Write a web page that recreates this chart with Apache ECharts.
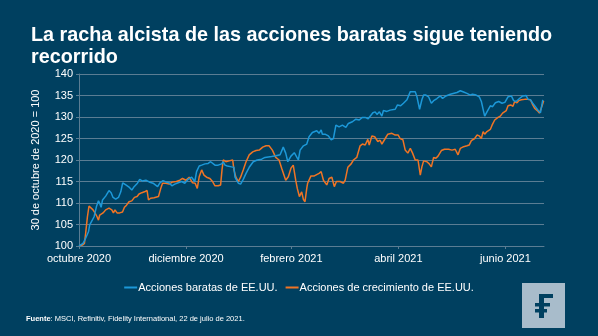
<!DOCTYPE html>
<html>
<head>
<meta charset="utf-8">
<script src="https://cdn.jsdelivr.net/npm/echarts@6/dist/echarts.min.js"></script>
<style>
html,body{margin:0;padding:0;background:#004060;}
#c{width:598px;height:336px;}
</style>
</head>
<body>
<div id="c"></div>
<script>
// Days since 30 Oct 2020 and index levels (30 Oct 2020 = 100)
const valueDays = [0,2.3,3.8,5.4,6.1,7.2,8.6,9.9,11.1,11.8,12.6,13.4,15.2,17.1,18.3,19.4,20.9,22.5,23.8,24.9,26.7,28.5,30.1,31.4,33.3,34.6,36.2,38.1,40,42.2,44.8,46.1,47.9,49.5,51.4,52.9,54.6,56.5,58.5,60.3,62.2,64.2,66,67,68.5,69.9,71.8,73.6,75,76.1,77.5,79.3,81.3,82.2,83.2,84.5,87,88.3,88.9,89.8,90.8,92.1,93.6,95.2,97,99.3,101.6,104.1,106,109.8,112.3,114.6,116.4,117.8,119,120.8,122.7,125,126,127.9,129.8,131.1,133,135.5,136.8,138,138.7,140.2,142.1,143.7,145,146.4,148.2,150.1,152.1,153.5,155.8,157.8,159.7,161.5,163.1,164.8,167.5,168.8,169.8,171.2,172.6,173.5,175.5,177.3,180.2,181.5,183.3,184.9,186.9,188.8,191.6,192.6,194.1,195.4,196.4,197.7,199.2,200.8,202.1,204,205.9,207.2,209.1,211.6,215.4,217.3,219.2,221.1,223,224.3,226.3,228.1,229.3,230.4,231.2,232.5,234.4,235.7,237.3,239.2,241.1,242.7,244.5,246.4,247.7,249.1,251,252.9,254.8,255.9,257.3,258.6,260.1,261.7,263,264.3];
const valueLevels = [100,100.6,101.8,103.3,104.9,105.1,106.8,109.1,110.5,109.9,109,110.7,111.6,112.9,112.4,111.3,110.9,111.3,112.6,114.7,114.2,113.7,113,113.8,114.6,115.5,115.1,115.3,114.9,114.6,113.8,114.7,115.2,114.9,114.7,114,114.4,114.7,115,114.6,115.5,116,115,117.3,118.6,118.8,119.1,119.2,119.6,119.8,118.8,118.8,119.1,119.6,118.8,118.6,118.4,118.3,116,115.3,114.6,114.4,115.5,116.9,118.3,119.6,120,120.2,120.6,120.8,121,121.2,123,121.6,119.6,120.9,121.7,120,122.3,123.3,123.7,125.4,126.4,126.8,126.2,127,126,126,125.6,124.7,125,128.1,127.7,128.1,127.6,128.5,128.9,129.5,129.3,129.9,129.9,129.6,131,131.2,130.6,131.2,130.2,131.5,131.3,131.6,131.8,132.8,132.6,133.2,134,135.9,135.9,134.7,131.8,134,135.1,135.1,134.7,133.2,133.8,134.3,134.9,134.3,134.9,135.3,135.7,136.1,135.8,135.5,135.1,135.3,135.1,134.7,133.6,131.6,130.2,131.2,132.6,132.4,133.3,133.6,133.2,133.4,134.7,134.9,133.8,133.6,134.3,134.9,135,134.1,134,133.2,132.4,131.5,131,134];

const growthDays = [0,1.9,3.1,3.8,4.8,5.7,6.5,8,9.1,10.3,11.1,11.8,12.6,13.7,15.2,17.1,18.7,19.6,20.5,21.7,23.2,24.8,25.9,27.1,28.5,30.1,31.6,33.1,34.2,35.8,37.3,38.8,39.6,40.8,42.8,45.3,46.6,47.6,49.5,51.4,53.3,55.5,57.5,59,60.9,62.8,64.7,66.2,67.4,68.5,69.9,71.2,72.7,74.6,76.1,77.5,79.3,80.7,81.5,82.2,83.7,85.6,87.6,88.3,89.4,90.8,92.1,93.6,95.2,97,99,100.9,102.7,104.7,106.6,108.3,110.2,112.1,114,115.5,116.4,117.8,119.3,120.8,122.1,123.5,124.4,125.6,126.9,127.9,128.8,129.8,130.3,132.2,134.1,136.8,138,139.3,141.2,142.5,144.1,145.5,146.7,148.8,150.7,151.7,153.2,155.1,156.4,158.3,160.2,161.5,163.1,164.6,165.4,166.9,168.5,170.3,171.6,172.6,174.5,176,178.3,180.2,181.9,183,184.6,185.9,187.4,188.8,190.1,191.6,193.2,194.5,195.4,196.4,198.3,199.6,200.8,202.1,203.4,204.6,206.5,208.3,210.6,212.6,214.4,216,217.3,219.2,221.1,222.4,223.6,225.5,226.8,228.1,229.3,230.3,231.2,232.5,234.4,235.4,236.9,238.8,240.1,241.4,243.5,244.5,246,247.3,248.3,249.6,250.6,252.1,254,255.9,257.3,258.6,259.7,261.2,262.4,263.9,264.8];
const growthLevels = [100,100.2,100.6,103,106.8,109.3,109.5,108.4,107.7,106.8,106,107.2,107.4,107.7,108.4,108.8,108.4,107.7,108.4,107.7,107.7,107.9,109,109.5,110.3,110.5,111.3,111.5,112.1,112.4,112.6,112.9,110.7,111.1,111.2,111.5,113.4,114.6,114.6,114.4,114.9,115,115.3,115.7,115.3,116,114.7,114.6,113.4,116.1,117.7,116.5,116,115.7,115,114,114,114.2,117.7,120,119.6,119.8,120,117.7,116,115,116,117.7,119.6,121.2,121.9,122.2,122.3,123,123.3,123.3,122.3,120.6,120,118.1,118.4,115.3,116.1,118.1,118.8,115.3,113.4,111.5,112.6,110.8,110.3,113.4,114.6,116.3,116.3,116.9,117.3,115.3,114.2,115.7,116,113.8,115,115,114.6,115.3,118.3,119.1,120,120.6,123.3,123.7,123.5,124.8,123.5,125.6,125.4,124.3,124.6,123.7,125,126,126.2,125.8,125.8,125,124.7,122.3,121.6,122.7,121.6,120,120,116.5,118.4,119.8,119.6,119.1,118.4,120.6,120.4,120.9,122.2,122.5,122.5,122.3,122.5,121.2,122.7,123.1,123.3,123.5,124.5,125,125.8,125.6,125,126.6,126,126.6,127.1,128.1,129.3,129.9,130.2,130.9,131.5,132.6,132.8,132.5,133.6,133.3,133.8,134,134.1,134.1,134,132.8,132,131.5,130.9,132.6,133.8];

const seriesNames = ['Acciones baratas de EE.UU.', 'Acciones de crecimiento de EE.UU.'];
const tickDays = [0, 61, 121, 182, 243];
const tickLabels = ['octubre 2020', 'diciembre 2020', 'febrero 2021', 'abril 2021', 'junio 2021'];
const titleText = 'La racha alcista de las acciones baratas sigue teniendo\nrecorrido';
const yAxisName = '30 de octubre de 2020 = 100';
const sourceBold = 'Fuente';
const sourceText = ': MSCI, Refinitiv, Fidelity International, 22 de julio de 2021.';

const BG = '#004060';
const GRID = '#5b7d93';
const TXT = '#ffffff';
const BLUE = '#1c98d8';
const ORANGE = '#f07424';
const FONT = '"Liberation Sans", Arial, sans-serif';

function pairs(xs, ys) { return xs.map((x, i) => [x, ys[i]]); }

const chart = echarts.init(document.getElementById('c'), null, {renderer: 'canvas'});
chart.setOption({
  backgroundColor: BG,
  animation: false,
  title: {
    text: titleText,
    left: 26, top: 20,
    textStyle: {color: TXT, fontSize: 19.8, fontWeight: 'bold', fontFamily: FONT, lineHeight: 22}
  },
  legend: {
    data: seriesNames,
    left: 'center', top: 277,
    itemWidth: 13, itemHeight: 2, itemGap: 8,
    icon: 'rect',
    textStyle: {color: TXT, fontSize: 11, fontFamily: FONT, padding: [0, 0, 0, -4]}
  },
  grid: {left: 79, right: 54, top: 74, bottom: 90, containLabel: false},
  xAxis: {
    type: 'value', min: 0, max: 265,
    axisLine: {show: true, lineStyle: {color: GRID, width: 1}},
    axisTick: {show: true, length: 3, lineStyle: {color: GRID}, customValues: tickDays},
    axisLabel: {
      color: TXT, fontSize: 11, fontFamily: FONT, margin: 7,
      customValues: tickDays,
      formatter: function (v) { const i = tickDays.indexOf(v); return i >= 0 ? tickLabels[i] : ''; }
    },
    splitLine: {show: false}
  },
  yAxis: {
    type: 'value', min: 100, max: 140, interval: 5,
    name: yAxisName, nameLocation: 'middle', nameGap: 38, nameRotate: 90,
    nameTextStyle: {color: TXT, fontSize: 11, fontFamily: FONT},
    axisLine: {show: true, lineStyle: {color: GRID, width: 1}},
    axisTick: {show: true, length: 3, lineStyle: {color: GRID}},
    axisLabel: {color: TXT, fontSize: 11, fontFamily: FONT, margin: 6},
    splitLine: {show: true, lineStyle: {color: GRID, width: 1}}
  },
  series: [
    {name: seriesNames[0], type: 'line', data: pairs(valueDays, valueLevels), showSymbol: false, symbol: 'none',
     lineStyle: {color: BLUE, width: 1.5}, itemStyle: {color: BLUE}, z: 3},
    {name: seriesNames[1], type: 'line', data: pairs(growthDays, growthLevels), showSymbol: false, symbol: 'none',
     lineStyle: {color: ORANGE, width: 1.5}, itemStyle: {color: ORANGE}, z: 2}
  ],
  graphic: [
    {type: 'text', left: 26, top: 315,
     style: {text: '{b|' + sourceBold + '}' + sourceText, fill: TXT, font: '7.5px ' + FONT,
       rich: {b: {fontWeight: 'bold', fontSize: 7.5, fontFamily: FONT, fill: TXT}}}},
    {type: 'group', left: 522, top: 283, children: [
      {type: 'rect', shape: {x: 0, y: 0, width: 43, height: 45}, style: {fill: '#a8bccb'}},
      {type: 'rect', shape: {x: 17, y: 11, width: 5, height: 24}, style: {fill: BG}},
      {type: 'rect', shape: {x: 17, y: 11, width: 14, height: 4}, style: {fill: BG}},
      {type: 'rect', shape: {x: 13, y: 20, width: 15, height: 3.5}, style: {fill: BG}},
      {type: 'rect', shape: {x: 13, y: 26, width: 12, height: 3.5}, style: {fill: BG}}
    ]}
  ]
});
</script>
</body>
</html>
